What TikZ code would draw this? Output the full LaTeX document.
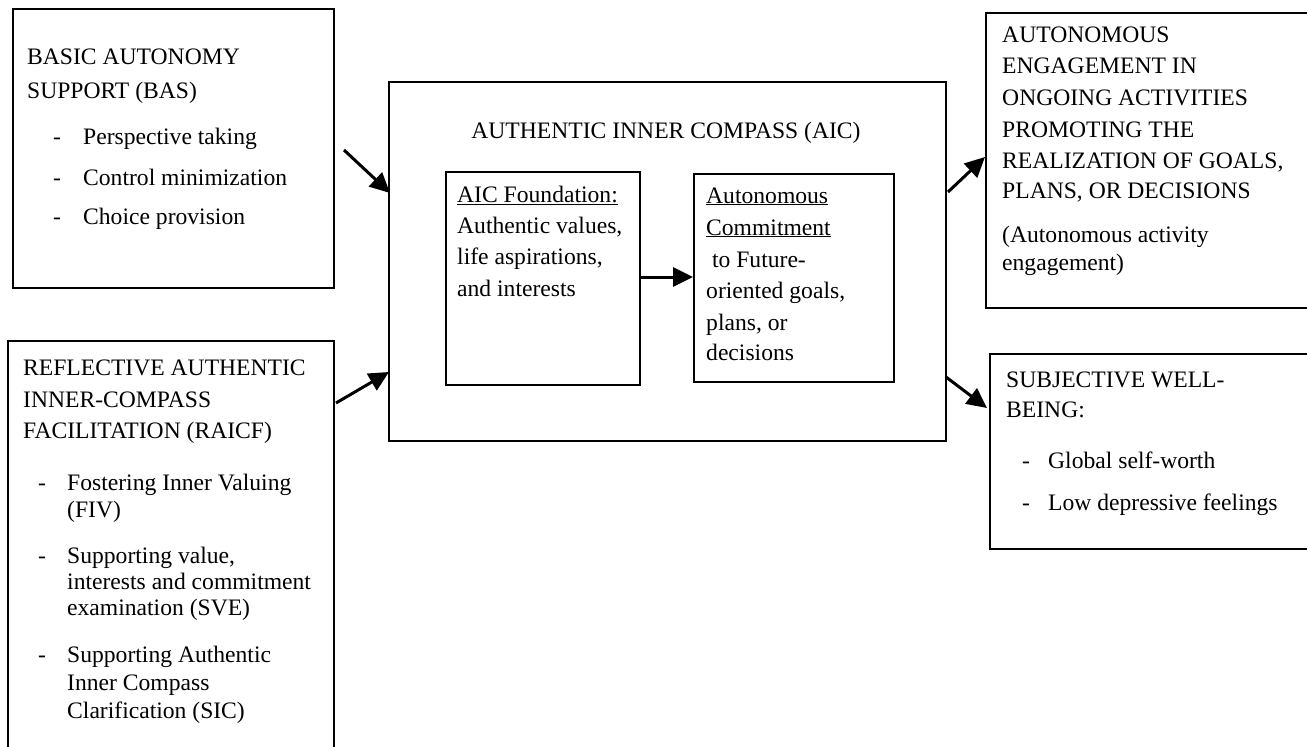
\documentclass[tikz,border=0pt]{standalone}
\usepackage{fontspec}
\setmainfont{Liberation Serif}
\usetikzlibrary{arrows.meta,calc}
\begin{document}
\begin{tikzpicture}[x=1pt,y=-1pt,
 box/.style={draw, line width=2pt, inner sep=0pt, anchor=north west},
 txt/.style={anchor=base west, inner sep=0pt, font=\fontsize{23.6}{28}\selectfont},
 arr/.style={line width=3pt, -{Triangle[length=20pt,width=19pt]}}]
\useasboundingbox (0,0) rectangle (1307,747);
\fill[white] (0,0) rectangle (1307,747);
% boxes
\node[box, minimum width=321pt, minimum height=279pt] (bas) at (12,8) {};
\node[box, minimum width=326pt, minimum height=430pt] (raicf) at (7,340) {};
\node[box, minimum width=557pt, minimum height=359pt] (aic) at (388,81) {};
\node[box, minimum width=194pt, minimum height=213pt] (fnd) at (445,171) {};
\node[box, minimum width=200pt, minimum height=208pt] (com) at (693,173) {};
\node[box, minimum width=340pt, minimum height=295pt] (eng) at (985,12) {};
\node[box, minimum width=340pt, minimum height=195pt] (swb) at (989,353) {};
% BAS text
\node[txt] (t1) at (27,64) {BASIC AUTONOMY};
\node[txt] (t2) at (27,98) {SUPPORT (BAS)};
\node[txt] (t3) at (53,144) {-};\node[txt] (t4) at (83,144) {Perspective taking};
\node[txt] (t5) at (53,185) {-};\node[txt] (t6) at (83,185) {Control minimization};
\node[txt] (t7) at (53,224) {-};\node[txt] (t8) at (83,224) {Choice provision};
% RAICF text
\node[txt] (r1) at (23,375) {REFLECTIVE AUTHENTIC};
\node[txt] (r2) at (23,407) {INNER-COMPASS};
\node[txt] (r3) at (23,438) {FACILITATION (RAICF)};
\node[txt] (r4) at (38,490) {-};\node[txt] (r5) at (67,490) {Fostering Inner Valuing};
\node[txt] (r6) at (67,517) {(FIV)};
\node[txt] (r7) at (38,563) {-};\node[txt] (r8) at (67,563) {Supporting value,};
\node[txt] (r9) at (67,589) {interests and commitment};
\node[txt] (r10) at (67,615) {examination (SVE)};
\node[txt] (r11) at (38,662) {-};\node[txt] (r12) at (67,662) {Supporting Authentic};
\node[txt] (r13) at (67,690) {Inner Compass};
\node[txt] (r14) at (67,718) {Clarification (SIC)};
% AIC text
\node[txt, anchor=base] (c0) at (666,138) {AUTHENTIC INNER COMPASS (AIC)};
\node[txt] (f1) at (457,202) {\underline{AIC Foundation:}};
\node[txt] (f2) at (457,233) {Authentic values,};
\node[txt] (f3) at (457,264) {life aspirations,};
\node[txt] (f4) at (457,296) {and interests};
\node[txt] (m1) at (706,203) {\underline{Autonomous}};
\node[txt] (m2) at (706,235) {\underline{Commitment}};
\node[txt] (m3) at (706,267) {\ to Future-};
\node[txt] (m4) at (706,298) {oriented goals,};
\node[txt] (m5) at (706,330) {plans, or};
\node[txt] (m6) at (706,360) {decisions};
% right top text
\node[txt] (e1) at (1002,42) {AUTONOMOUS};
\node[txt] (e2) at (1002,73) {ENGAGEMENT IN};
\node[txt] (e3) at (1002,105) {ONGOING ACTIVITIES};
\node[txt] (e4) at (1002,137) {PROMOTING THE};
\node[txt] (e5) at (1002,168) {REALIZATION OF GOALS,};
\node[txt] (e6) at (1002,198) {PLANS, OR DECISIONS};
\node[txt] (e7) at (1002,242) {(Autonomous activity};
\node[txt] (e8) at (1002,270) {engagement)};
% right bottom text
\node[txt] (s1) at (1006,387) {SUBJECTIVE WELL-};
\node[txt] (s2) at (1006,417) {BEING:};
\node[txt] (s3) at (1022,468) {-};\node[txt] (s4) at (1048,468) {Global self-worth};
\node[txt] (s5) at (1022,510) {-};\node[txt] (s6) at (1048,510) {Low depressive feelings};
% connectors
\coordinate (a1) at (344,150);
\coordinate (a1e) at (390,193);
\coordinate (a2) at (336,403);
\coordinate (a2e) at (389,372);
\coordinate (a3) at (948,192);
\coordinate (a3e) at (985,157);
\coordinate (a4) at (946,377);
\coordinate (a4e) at (987,408);
\draw[arr] (a1) -- (a1e);
\draw[arr] (a2) -- (a2e);
\draw[arr] (a3) -- (a3e);
\draw[arr] (a4) -- (a4e);
\draw[arr] (fnd.east |- 0,277) -- (com.west |- 0,277);
\end{tikzpicture}
\end{document}
